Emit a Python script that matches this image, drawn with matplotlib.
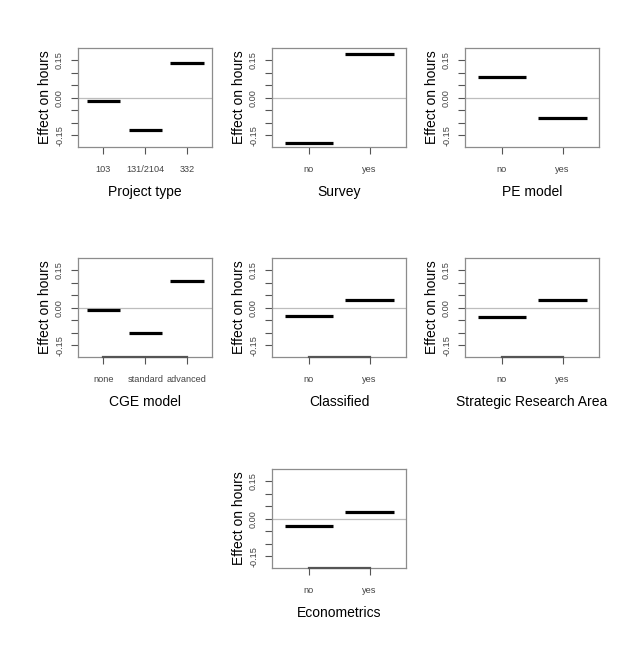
import numpy as np
import matplotlib.pyplot as plt

plt.rcParams['font.family'] = ['Liberation Sans', 'DejaVu Sans']

# term effects
project_levels = ["103", "131/2104", "332"]
project_effect = [-0.011, -0.127, 0.140]

survey_levels = ["no", "yes"]
survey_effect = [-0.180, 0.177]

pe_levels = ["no", "yes"]
pe_effect = [0.083, -0.081]

cge_levels = ["none", "standard", "advanced"]
cge_effect = [-0.009, -0.100, 0.107]

classified_levels = ["no", "yes"]
classified_effect = [-0.031, 0.031]

sra_levels = ["no", "yes"]
sra_effect = [-0.035, 0.033]

econ_levels = ["no", "yes"]
econ_effect = [-0.027, 0.027]

panels = [
    ("Project type", project_levels, project_effect, False),
    ("Survey", survey_levels, survey_effect, False),
    ("PE model", pe_levels, pe_effect, False),
    ("CGE model", cge_levels, cge_effect, True),
    ("Classified", classified_levels, classified_effect, True),
    ("Strategic Research Area", sra_levels, sra_effect, True),
    ("Econometrics", econ_levels, econ_effect, True),
]

W, H = 624, 650
fig = plt.figure(figsize=(W / 100, H / 100), dpi=100)

# axes boxes in pixels: left, top
lefts = [78, 272, 465]
tops = [48, 258, 469]
aw, ah = 134, 99
spots = [(0, 0), (1, 0), (2, 0), (0, 1), (1, 1), (2, 1), (1, 2)]

yticks = [0.15, 0.10, 0.05, 0.0, -0.05, -0.10, -0.15]
ylabels = ["0.15", "", "", "0.00", "", "", "-0.15"]
box_col = "#8c8c8c"

for (name, levels, eff, rugline), (ci, ri) in zip(panels, spots):
    ax = fig.add_axes([lefts[ci] / W, 1 - (tops[ri] + ah) / H, aw / W, ah / H])
    n = len(levels)
    pos = np.arange(1, n + 1)
    ax.axhline(0, color="#bdbdbd", lw=0.9, zorder=1)
    for p, v in zip(pos, eff):
        ax.plot([p - 0.4, p + 0.4], [v, v], color="black", lw=2.3,
                solid_capstyle="butt", zorder=3)
    if rugline:
        ax.plot([1, n], [-0.197, -0.197], color="#555555", lw=1.6,
                clip_on=False, zorder=4)
    ax.set_xlim(1 - 0.61, n + 0.6)
    ax.set_ylim(-0.197, 0.199)
    ax.set_xticks(pos)
    ax.set_xticklabels(levels, fontsize=6.6, color="#444444")
    ax.set_yticks(yticks)
    ax.set_yticklabels(ylabels, fontsize=6.6, color="#444444",
                       rotation=90, va="center")
    ax.tick_params(axis="x", length=5, width=0.8, color="#555555", pad=8)
    ax.tick_params(axis="y", length=5, width=0.8, color="#555555", pad=5)
    for s in ax.spines.values():
        s.set_color(box_col)
        s.set_linewidth(0.9)
    ax.set_xlabel(name, fontsize=10, labelpad=8)
    ax.set_ylabel("Effect on hours", fontsize=10, labelpad=2)

fig.savefig("out.png", dpi=100, facecolor="white")
